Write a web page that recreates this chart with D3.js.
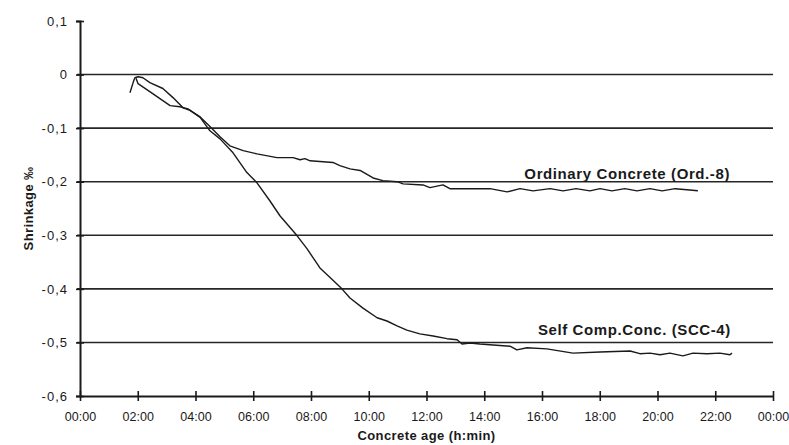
<!DOCTYPE html>
<html>
<head>
<meta charset="utf-8">
<script src="https://cdn.jsdelivr.net/npm/d3@7"></script>
<style>
    body { margin: 0; background: #fff; }
    text { font-family: "Liberation Sans", Arial, sans-serif; fill: #1a1a1a; }
</style>
</head>
<body>
<div id="chart"></div>
<script>
"use strict";
const width = 789; // px
const height = 445; // px
const margin = {top: 21, right: 16, bottom: 49, left: 80}; // px

// concrete age in hours, shrinkage in per mille
const ordHours = [1.73, 1.84, 1.90, 2.01, 2.18, 2.42, 2.87, 3.22, 3.57, 3.81, 4.16, 4.50, 4.85, 5.19, 5.65, 6.13,
    6.82, 7.38, 7.62, 7.79, 7.97, 8.76, 9.00, 9.35, 9.70, 10.15, 10.49, 10.98, 11.19, 11.88, 12.12, 12.57,
    12.81, 13.51, 14.20, 14.79, 15.24, 15.69, 16.28, 16.73, 17.18, 17.66, 18.01, 18.42, 18.87, 19.29,
    19.74, 20.16, 20.61, 21.02, 21.40];
const ordValues = [-0.034, -0.015, -0.006, -0.004, -0.006, -0.015, -0.026, -0.043, -0.062, -0.067, -0.079,
    -0.097, -0.116, -0.133, -0.142, -0.148, -0.155, -0.155, -0.159, -0.157, -0.161, -0.164, -0.170, -0.176,
    -0.179, -0.193, -0.198, -0.200, -0.204, -0.206, -0.211, -0.206, -0.213, -0.213, -0.213, -0.219, -0.213,
    -0.217, -0.213, -0.217, -0.213, -0.217, -0.213, -0.217, -0.213, -0.217, -0.213, -0.217, -0.213, -0.215,
    -0.217];

const sccHours = [1.94, 2.01, 2.53, 3.12, 3.46, 3.74, 4.16, 4.50, 4.85, 5.30, 5.78, 6.13, 6.58, 6.93, 7.38,
    7.52, 7.86, 8.31, 8.66, 9.07, 9.35, 9.80, 10.29, 10.63, 10.98, 11.32, 11.77, 12.23, 12.71, 13.06, 13.23,
    13.51, 13.85, 14.89, 15.13, 15.48, 16.17, 17.07, 18.01, 19.05, 19.39, 19.74, 20.09, 20.43, 20.88, 21.23,
    21.71, 22.16, 22.51, 22.58];
const sccValues = [-0.007, -0.017, -0.036, -0.058, -0.060, -0.064, -0.080, -0.105, -0.120, -0.146, -0.183,
    -0.202, -0.236, -0.264, -0.292, -0.301, -0.325, -0.361, -0.379, -0.400, -0.417, -0.436, -0.454, -0.460,
    -0.469, -0.477, -0.484, -0.488, -0.493, -0.495, -0.503, -0.501, -0.503, -0.507, -0.514, -0.510, -0.512,
    -0.520, -0.518, -0.516, -0.521, -0.520, -0.523, -0.520, -0.525, -0.520, -0.521, -0.520, -0.523, -0.520];

const xTicks = [0, 2, 4, 6, 8, 10, 12, 14, 16, 18, 20, 22, 24];
const xTickLabels = ["00:00", "02:00", "04:00", "06:00", "08:00", "10:00", "12:00", "14:00", "16:00",
    "18:00", "20:00", "22:00", "00:00"];
const yTicks = [0.1, 0, -0.1, -0.2, -0.3, -0.4, -0.5, -0.6];
const yTickLabels = ["0,1", "0", "-0,1", "-0,2", "-0,3", "-0,4", "-0,5", "-0,6"];
const gridValues = [0, -0.1, -0.2, -0.3, -0.4, -0.5];

const seriesLabels = [
    {name: "Ordinary Concrete (Ord.-8)", hour: 18.95, value: -0.194},
    {name: "Self Comp.Conc. (SCC-4)", hour: 19.2, value: -0.487}
];

const x = d3.scaleLinear().domain([0, 24]).range([margin.left, width - margin.right]);
const y = d3.scaleLinear().domain([0.1, -0.6]).range([margin.top, height - margin.bottom]);

const svg = d3
    .select("#chart")
    .append("svg")
    .attr("width", width)
    .attr("height", height);

// horizontal grid lines
svg
    .append("g")
    .selectAll("line")
    .data(gridValues)
    .join("line")
    .attr("x1", x(0) - 3)
    .attr("x2", x(24))
    .attr("y1", (d) => y(d))
    .attr("y2", (d) => y(d))
    .attr("stroke", "#262626")
    .attr("stroke-width", 1.6);

// y axis
const yAxis = d3
    .axisLeft(y)
    .tickValues(yTicks)
    .tickFormat((d, i) => yTickLabels[i])
    .tickSize(4)
    .tickPadding(8);

svg
    .append("g")
    .attr("transform", `translate(${x(0)},0)`)
    .call(yAxis)
    .call((g) => g.select(".domain").attr("stroke", "#1a1a1a").attr("stroke-width", 2))
    .call((g) => g.selectAll(".tick line").attr("x2", 4).attr("x1", -4).attr("stroke", "#1a1a1a").attr("stroke-width", 1.6))
    .call((g) => g.selectAll(".tick text")
        .style("font-size", "13px")
        .style("letter-spacing", "1px")
        .attr("fill", "#1a1a1a"));

// x axis
const xAxis = d3
    .axisBottom(x)
    .tickValues(xTicks)
    .tickFormat((d, i) => xTickLabels[i])
    .tickSize(5)
    .tickSizeOuter(0)
    .tickPadding(11);

svg
    .append("g")
    .attr("transform", `translate(0,${y(-0.6)})`)
    .call(xAxis)
    .call((g) => g.select(".domain").attr("stroke", "#1a1a1a").attr("stroke-width", 2))
    .call((g) => g.selectAll(".tick line").attr("y1", -5).attr("y2", 5).attr("stroke", "#1a1a1a").attr("stroke-width", 1.6))
    .call((g) => g.selectAll(".tick text")
        .style("font-size", "12.5px")
        .attr("fill", "#1a1a1a"));

// series lines
const line = d3
    .line()
    .x((d) => x(d[0]))
    .y((d) => y(d[1]));

const series = [
    d3.zip(ordHours, ordValues),
    d3.zip(sccHours, sccValues)
];

svg
    .append("g")
    .selectAll("path")
    .data(series)
    .join("path")
    .attr("fill", "none")
    .attr("stroke", "#1a1a1a")
    .attr("stroke-width", 1.4)
    .attr("stroke-linejoin", "round")
    .attr("d", line);

// series names
svg
    .append("g")
    .selectAll("text")
    .data(seriesLabels)
    .join("text")
    .attr("x", (d) => x(d.hour))
    .attr("y", (d) => y(d.value))
    .attr("text-anchor", "middle")
    .style("font-size", "15px")
    .style("font-weight", "bold")
    .style("letter-spacing", "0.6px")
    .text((d) => d.name);

// axis titles
svg
    .append("text")
    .attr("x", (x(0) + x(24)) / 2)
    .attr("y", 440)
    .attr("text-anchor", "middle")
    .style("font-size", "13px")
    .style("font-weight", "bold")
    .style("letter-spacing", "0.4px")
    .text("Concrete age (h:min)");

svg
    .append("text")
    .attr("transform", `translate(33,${y(-0.25)}) rotate(-90)`)
    .attr("text-anchor", "middle")
    .style("font-size", "13px")
    .style("font-weight", "bold")
    .style("letter-spacing", "0.4px")
    .text("Shrinkage ‰");
</script>
</body>
</html>
